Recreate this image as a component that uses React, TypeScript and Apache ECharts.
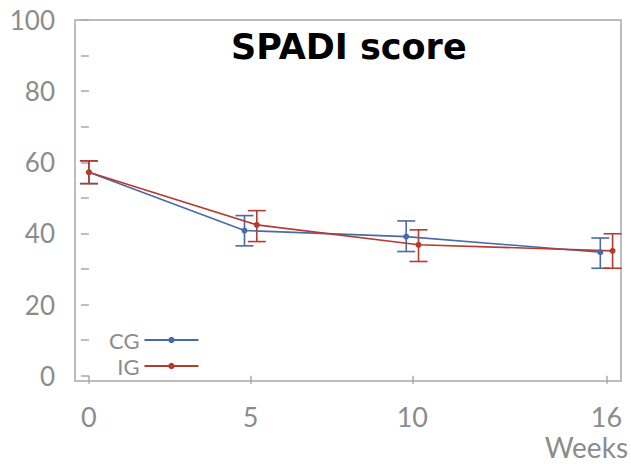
import React, { useEffect, useRef } from "react";
import * as echarts from "echarts";

const weeks = [0, 5, 10, 16];
const cgMean = [57.2, 40.8, 39.1, 34.7];
const cgLow = [54.0, 36.5, 34.9, 30.2];
const cgHigh = [60.4, 45.0, 43.5, 38.7];
const igMean = [57.2, 42.4, 36.8, 35.1];
const igLow = [54.0, 37.7, 32.1, 30.2];
const igHigh = [60.4, 46.4, 41.0, 39.9];
const yTicks = [0, 10, 20, 30, 40, 50, 60, 70, 80, 90, 100];
const yLabels = [0, 20, 40, 60, 80, 100];
const xAxisTitle = "Weeks";

const BLUE = "#4a69a8";
const RED = "#b53b2f";
const GRAY = "#8c8c8c";
const AXIS = "#a8a8a8";
const DODGE = 0.19;
const FONT = "Lato";

const xPos = (w: number, sign: number) => (w === 0 ? w : w + sign * DODGE);

function errorSeries(name: string, low: number[], high: number[], sign: number, color: string) {
  return {
    type: "custom",
    name: name + " err",
    silent: true,
    encode: { x: 0, y: [1, 2] },
    data: weeks.map((w, i) => [xPos(w, sign), low[i], high[i]]),
    renderItem: (params: any, api: any) => {
      const x = api.value(0);
      const lo = api.coord([x, api.value(1)]);
      const hi = api.coord([x, api.value(2)]);
      const hw = 9;
      const st = { stroke: color, lineWidth: 1.6 };
      return {
        type: "group",
        children: [
          { type: "line", shape: { x1: lo[0], y1: lo[1], x2: hi[0], y2: hi[1] }, style: st },
          { type: "line", shape: { x1: lo[0] - hw, y1: lo[1], x2: lo[0] + hw, y2: lo[1] }, style: st },
          { type: "line", shape: { x1: hi[0] - hw, y1: hi[1], x2: hi[0] + hw, y2: hi[1] }, style: st },
        ],
      };
    },
  };
}

function lineSeries(name: string, mean: number[], sign: number, color: string) {
  return {
    type: "line",
    name,
    data: weeks.map((w, i) => [xPos(w, sign), mean[i]]),
    symbol: "circle",
    symbolSize: 6,
    itemStyle: { color },
    lineStyle: { color, width: 1.6 },
  };
}

export default function App() {
  const ref = useRef<HTMLDivElement>(null);
  useEffect(() => {
    const chart = echarts.init(ref.current!, null, { renderer: "svg" });
    chart.setOption({
      animation: false,
      title: {
        text: "SPADI score",
        left: 226,
        top: 24,
        textStyle: { fontFamily: "DejaVu Sans", fontWeight: "bold", fontSize: 35, color: "#000" },
      },
      legend: {
        data: ["CG", "IG"],
        orient: "vertical",
        align: "right",
        left: 104,
        top: 324,
        itemWidth: 54,
        itemHeight: 8,
        itemGap: 4,
        textStyle: { fontFamily: FONT, fontSize: 22, color: GRAY, lineHeight: 22 },
        selectedMode: false,
      },
      graphic: [
        {
          type: "text",
          right: 3,
          top: 433,
          style: { text: xAxisTitle, fontFamily: FONT, fontSize: 28, fill: GRAY },
        },
      ],
      grid: {
        left: 75,
        right: 10,
        top: 20,
        bottom: 83,
        outerBoundsMode: "none",
        containLabel: false,
        show: true,
        borderColor: AXIS,
        borderWidth: 1.5,
        backgroundColor: "transparent",
      },
      xAxis: {
        type: "value",
        min: -0.43,
        max: 16.45,
        offset: 2,
        axisLine: { show: false },
        splitLine: { show: false },
        axisTick: { show: true, length: 8, customValues: weeks, lineStyle: { color: AXIS, width: 1.5 } },
        axisLabel: { customValues: weeks, margin: 20, color: GRAY, fontFamily: FONT, fontSize: 27 },
      },
      yAxis: {
        type: "value",
        min: -1.5,
        max: 100,
        axisLine: { show: false },
        splitLine: { show: false },
        axisTick: { show: true, length: 8, customValues: yTicks, lineStyle: { color: AXIS, width: 1.5 } },
        axisLabel: { customValues: yLabels, margin: 20, color: GRAY, fontFamily: FONT, fontSize: 26 },
      },
      series: [
        errorSeries("CG", cgLow, cgHigh, -1, BLUE),
        lineSeries("CG", cgMean, -1, BLUE),
        errorSeries("IG", igLow, igHigh, 1, RED),
        lineSeries("IG", igMean, 1, RED),
      ],
    });
    return () => chart.dispose();
  }, []);
  return <div ref={ref} style={{ width: 631, height: 464, position: "absolute", left: 0, top: 0 }} />;
}
